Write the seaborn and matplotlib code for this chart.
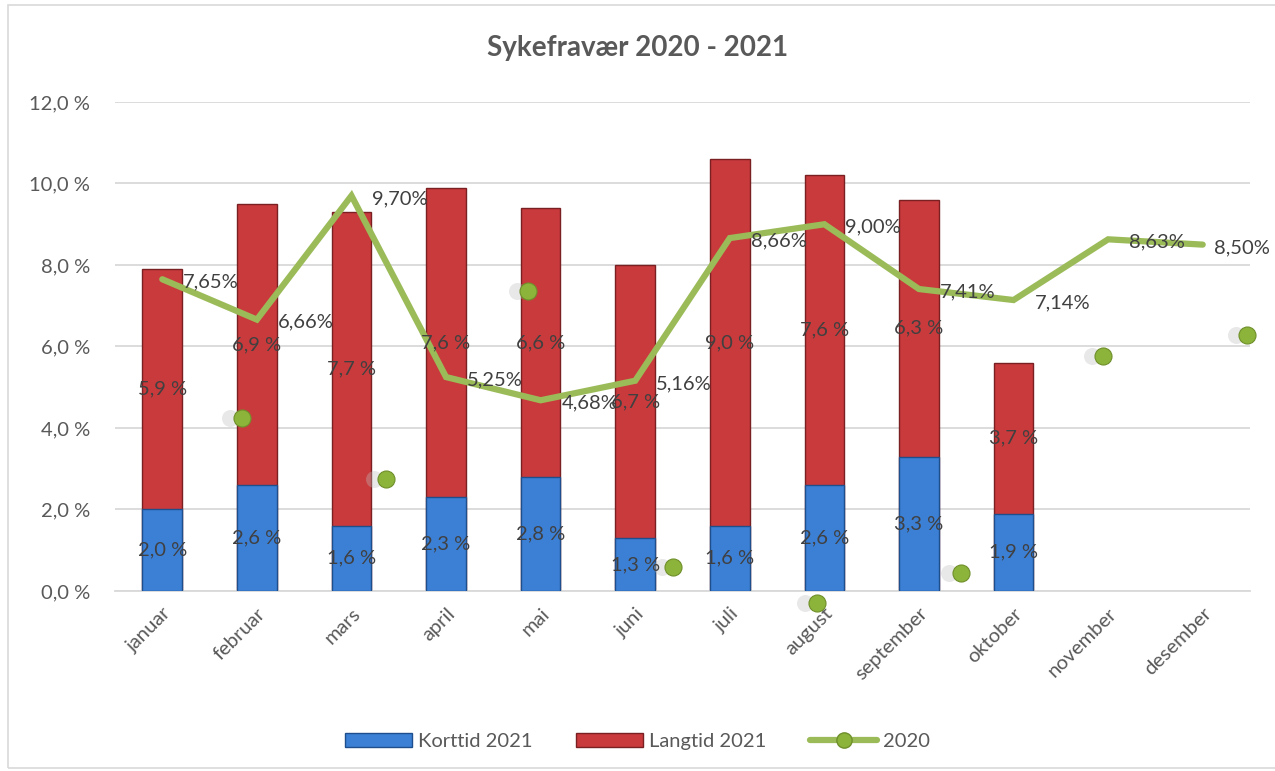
import numpy as np
import pandas as pd
import matplotlib
matplotlib.use("Agg")
import matplotlib.pyplot as plt
import seaborn as sns
from matplotlib.lines import Line2D
from matplotlib.patches import Patch, Rectangle

# ---- data ----
months = ["januar", "februar", "mars", "april", "mai", "juni", "juli",
          "august", "september", "oktober", "november", "desember"]
korttid_2021 = [2.0, 2.6, 1.6, 2.3, 2.8, 1.3, 1.6, 2.6, 3.3, 1.9, np.nan, np.nan]
langtid_2021 = [5.9, 6.9, 7.7, 7.6, 6.6, 6.7, 9.0, 7.6, 6.3, 3.7, np.nan, np.nan]
total_2020 = [7.65, 6.66, 9.70, 5.25, 4.68, 5.16, 8.66, 9.00, 7.41, 7.14, 8.63, 8.50]
# stray (displaced) 2020 markers visible in the original rendering
stray_pos = [0.84, 2.36, 3.87, 5.40, 6.92, 8.44, 9.95, 11.47]
stray_val = [4.25, 2.75, 7.36, 0.59, -0.29, 0.44, 5.77, 6.28]
yticks = [0, 2, 4, 6, 8, 10, 12]

df = pd.DataFrame({"month": months, "kort": korttid_2021, "lang": langtid_2021,
                   "y2020": total_2020})
df["sum"] = df["kort"] + df["lang"]
df["pos"] = np.arange(len(months))

sns.set_theme(style="white")
plt.rcParams["font.family"] = ["Lato", "DejaVu Sans"]
txt = "#595959"
lbl = "#404040"
fs = 14.5

fig = plt.figure(figsize=(12.75, 7.71), dpi=100)
ax = fig.add_axes([0.0902, 0.2335, 0.8902, 0.6342])

blue = "#3C80D6"
red = "#C93A3C"
green = "#9BBB59"

sns.barplot(data=df, x="month", y="sum", order=months, color=red, saturation=1,
            width=0.42, edgecolor="#7A1F22", linewidth=1.0, ax=ax, zorder=2)
sns.barplot(data=df, x="month", y="kort", order=months, color=blue, saturation=1,
            width=0.42, edgecolor="#1F4E8C", linewidth=1.0, ax=ax, zorder=3)

sns.lineplot(x=df["pos"], y=df["y2020"], color=green, linewidth=4.5, ax=ax,
             zorder=5, solid_joinstyle="miter")

# stray markers with soft shadows
ax.scatter(np.array(stray_pos) - 0.12, stray_val, s=150, color="#BFBFBF",
           alpha=0.35, zorder=4, clip_on=False, linewidths=0)
ax.scatter(stray_pos, stray_val, s=150, color="#8DB43A", edgecolor="#6E8F2A",
           linewidths=0.8, zorder=6, clip_on=False)

# bar labels (centred in segments)
for i, (k, l) in enumerate(zip(korttid_2021, langtid_2021)):
    if np.isnan(k):
        continue
    ax.text(i, k / 2, f"{k:.1f} %".replace(".", ","), ha="center", va="center",
            fontsize=fs, color=lbl, zorder=7)
    ax.text(i, k + l / 2, f"{l:.1f} %".replace(".", ","), ha="center",
            va="center", fontsize=fs, color=lbl, zorder=7)

# line labels (right of points; last one nudged in to stay inside the chart)
n = len(total_2020)
for i, v in enumerate(total_2020):
    dx = 8 if i == n - 1 else 15
    ax.annotate(f"{v:.2f}%".replace(".", ","), (i, v), xytext=(dx, -2),
                textcoords="offset points", ha="left", va="center",
                fontsize=fs, color=lbl, zorder=8)

ax.set_xlim(-0.5, len(months) - 0.5)
ax.set_ylim(0, 12)
ax.set_yticks(yticks)
ax.set_yticklabels([f"{t:.1f} %".replace(".", ",") for t in yticks],
                   fontsize=fs, color=txt)
ax.set_xticks(range(len(months)))
ax.set_xticklabels(months, rotation=45, ha="right", rotation_mode="anchor",
                   fontsize=fs, color=txt)
ax.tick_params(axis="x", pad=10, length=0)
ax.tick_params(axis="y", pad=18, length=0)
ax.set_xlabel("")
ax.set_ylabel("")
ax.yaxis.grid(True, color="#D9D9D9", linewidth=1.3, zorder=0)
ax.set_axisbelow(True)
for s in ["top", "right", "left"]:
    ax.spines[s].set_visible(False)
ax.spines["bottom"].set_color("#D9D9D9")
ax.spines["bottom"].set_linewidth(1.3)

fig.suptitle("Sykefravær 2020 - 2021", x=0.5, y=0.955, fontsize=20,
             fontweight="bold", color=txt)

handles = [
    Patch(facecolor=blue, edgecolor="#1F4E8C", label="Korttid 2021"),
    Patch(facecolor=red, edgecolor="#7A1F22", label="Langtid 2021"),
    Line2D([0], [0], color=green, linewidth=4.5, marker="o", markersize=11,
           markerfacecolor="#8DB43A", markeredgecolor="#6E8F2A", label="2020"),
]
fig.legend(handles=handles, loc="center", bbox_to_anchor=(0.5, 0.038), ncol=3,
           frameon=False, fontsize=fs, labelcolor=txt, handlelength=3.3,
           handleheight=0.7, columnspacing=2.2, handletextpad=0.3)

fig.patches.append(Rectangle((0.006, 0.004), 1.05, 0.99, transform=fig.transFigure,
                             fill=False, edgecolor="#D9D9D9", linewidth=1.2))

fig.savefig("out.png", dpi=100)
